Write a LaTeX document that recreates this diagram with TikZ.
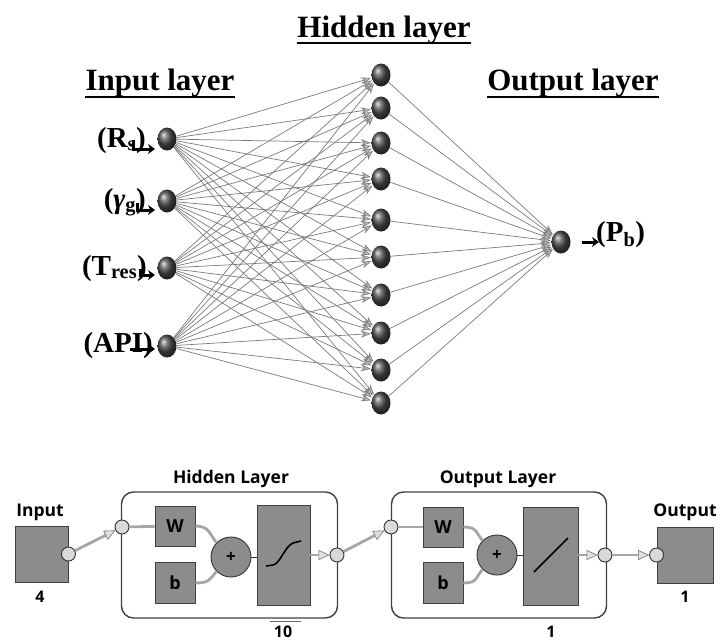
\documentclass[tikz,border=0pt]{standalone}
\usepackage{fontspec}
\setmainfont{Liberation Serif}
\newfontfamily\uisans{Open Sans}
\usetikzlibrary{shapes.geometric,arrows.meta,calc}

\begin{document}
\begin{tikzpicture}[x=1pt,y=-1pt,
  neuron/.style={ellipse,minimum width=19pt,minimum height=23pt,inner sep=0pt,shading=ball,ball color=black!70},
  conn/.style={draw=black!52,line width=0.7pt,-{Stealth[length=10pt,width=7pt,fill=black!25,color=black!50]},shorten >=0.5pt},
  ttl/.style={font=\fontsize{31}{33}\selectfont\bfseries,anchor=base,inner sep=0pt},
  lbl/.style={font=\fontsize{29}{31}\selectfont\bfseries,inner sep=0pt,anchor=base east},
  tickarrow/.style={draw=black,line width=3pt,-{Stealth[length=7pt,width=10pt]}},
  blk/.style={draw=black!75,line width=0.9pt,fill=black!45,inner sep=0pt,font=\uisans\fontsize{18}{20}\selectfont\bfseries},
  port/.style={circle,draw=black!80,line width=0.9pt,fill=black!15,minimum size=14pt,inner sep=0pt},
  sumc/.style={circle,draw=black!80,line width=0.9pt,fill=black!45,minimum size=40pt,inner sep=0pt},
  layerbox/.style={draw=black!75,line width=1.4pt,rounded corners=12pt,inner sep=0pt},
  blkcap/.style={font=\uisans\fontsize{17.5}{19}\selectfont\bfseries,inner sep=0pt,anchor=base},
  num/.style={font=\uisans\fontsize{16}{18}\selectfont\bfseries,inner sep=0pt},
  plussign/.style={font=\uisans\bfseries\fontsize{17}{17}\selectfont,inner sep=0pt},
  feed/.style={draw=black!35,line width=2.8pt},
  wire/.style={draw=black!80,line width=0.8pt},
  flow/.style={draw=black!35,line width=2.8pt,-{Triangle[length=11pt,width=10pt,line width=0.6pt,fill=black!12,color=black!55]}},
]
\useasboundingbox (0,0) rectangle (721,641);

% ---------- feed-forward network ----------
\node[ttl] (thid) at (384,37) {Hidden layer};
\draw[line width=2pt] ([yshift=-6pt]thid.base west) -- ([yshift=-6pt]thid.base east);
\node[ttl] (tin) at (160,90) {Input layer};
\draw[line width=2pt] ([yshift=-7pt]tin.base west) -- ([yshift=-7pt]tin.base east);
\node[ttl] (tout) at (573,90) {Output layer};
\draw[line width=2pt] ([yshift=-7pt]tout.base west) -- ([yshift=-7pt]tout.base east);

\node[neuron] (i1) at (167,139) {};
\node[neuron] (i2) at (167,201) {};
\node[neuron] (i3) at (167,268) {};
\node[neuron] (i4) at (167,346) {};

\foreach \k/\y in {1/75,2/108,3/143,4/179,5/220,6/257,7/295,8/333,9/370,10/403}
  \node[neuron] (h\k) at (381,\y) {};

\node[neuron] (o) at (561,242) {};

\foreach \i in {1,...,4}
  \foreach \k in {1,...,10}
    \draw[conn] (i\i) -- (h\k);
\foreach \k in {1,...,10}
  \draw[conn] (h\k) -- (o);

% input and output labels
\node[lbl] (lr) at (146,147) {(R\textsubscript{s})};
\node[lbl] (lg) at (146,208) {(\textit{γ}\textsubscript{g})};
\node[lbl] (lt) at (147,275) {(T\textsubscript{res})};
\node[lbl] (la) at (153,352) {(API)};
\node[lbl,anchor=base west] (lp) at (596,241) {(P\textsubscript{b})};

\draw[tickarrow] ([xshift=-34pt,yshift=-1pt]i1.center) |- ([xshift=-12pt,yshift=-10pt]i1.center);
\draw[tickarrow] ([xshift=-30pt,yshift=-2pt]i2.center) |- ([xshift=-12pt,yshift=-9pt]i2.center);
\draw[tickarrow] ([xshift=-27pt,yshift=-1pt]i3.center) |- ([xshift=-12pt,yshift=-7pt]i3.center);
\draw[tickarrow] ([xshift=-37pt,yshift=-3pt]i4.center) -- ([xshift=-12pt,yshift=-3pt]i4.center);
\draw[tickarrow] ([xshift=21pt]o.center) -- ([xshift=38pt]o.center);

% ---------- block diagram ----------
\node[blkcap] (cin) at (40,516) {Input};
\node[blk,minimum width=53pt,minimum height=56pt] (inb) at (41.5,554) {};
\node[num] (nin) at (40,597) {4};
\node[port] (inp) at (inb.east) {};

\node[blkcap] (chl) at (231,483) {Hidden Layer};
\node[layerbox,minimum width=216pt,minimum height=126pt] (hl) at (229.5,555) {};
\node[port] (hinp) at (122,527) {};
\node[blk,minimum width=40pt,minimum height=40pt] (W1) at (175,526) {W};
\node[blk,minimum width=40pt,minimum height=41pt] (b1) at (175,583) {b};
\node[sumc] (s1) at (231,557) {};
\node[plussign] (p1) at (s1) {+};
\node[blk,minimum width=53pt,minimum height=100pt] (tf1) at (283.5,555) {};
\node[port] (hout) at (337,555) {};
\node[num] (n10) at (283,632) {10};
\draw[black!60,line width=1pt] ([yshift=4pt]n10.north west) ++(-4,0) -- ++(31,0);

\node[blkcap] (col) at (498,483) {Output Layer};
\node[layerbox,minimum width=215pt,minimum height=126pt] (ol) at (499,555) {};
\node[port] (oinp) at (391,527) {};
\node[blk,minimum width=40pt,minimum height=40pt] (W2) at (443,527) {W};
\node[blk,minimum width=40pt,minimum height=41pt] (b2) at (443,583) {b};
\node[sumc] (s2) at (497,555) {};
\node[plussign] (p2) at (s2) {+};
\node[blk,minimum width=55pt,minimum height=98pt] (tf2) at (550.5,556) {};
\node[port] (oout) at (605,555) {};
\node[num] (n1) at (551,632) {1};

\node[blkcap] (cout) at (685,516) {Output};
\node[blk,minimum width=56pt,minimum height=56pt] (outb) at (685,555) {};
\node[port] (outp) at (outb.west) {};
\node[num] (nout) at (685,597) {1};

% signal paths
\draw[flow] (inp) -- (hinp);
\draw[feed] (hinp) -- (W1);
\draw[feed] (W1.east) .. controls +(14,0) and +(-7,-8) .. (s1.135);
\draw[feed] (b1.east) .. controls +(14,0) and +(-7,8) .. (s1.225);
\draw[wire] (s1.east) -- (s1.east -| tf1.west);
\draw[flow] (tf1.east |- hout) -- (hout);
\draw[flow] (hout) -- (oinp);
\draw[feed] (oinp) -- (W2);
\draw[feed] (W2.east) .. controls +(14,0) and +(-7,-8) .. (s2.135);
\draw[feed] (b2.east) .. controls +(14,0) and +(-7,8) .. (s2.225);
\draw[wire] (s2.east) -- (s2.east -| tf2.west);
\draw[flow] (tf2.east |- oout) -- (oout);
\draw[flow] (oout) -- (outp);

% transfer function curves
\draw[black,line width=1.6pt] (266,566) -- (273,565) .. controls (280,564) and (285,546) .. (293,543) -- (301,541);
\draw[black,line width=1.6pt] (534,572) -- (568,538);
\end{tikzpicture}
\end{document}
